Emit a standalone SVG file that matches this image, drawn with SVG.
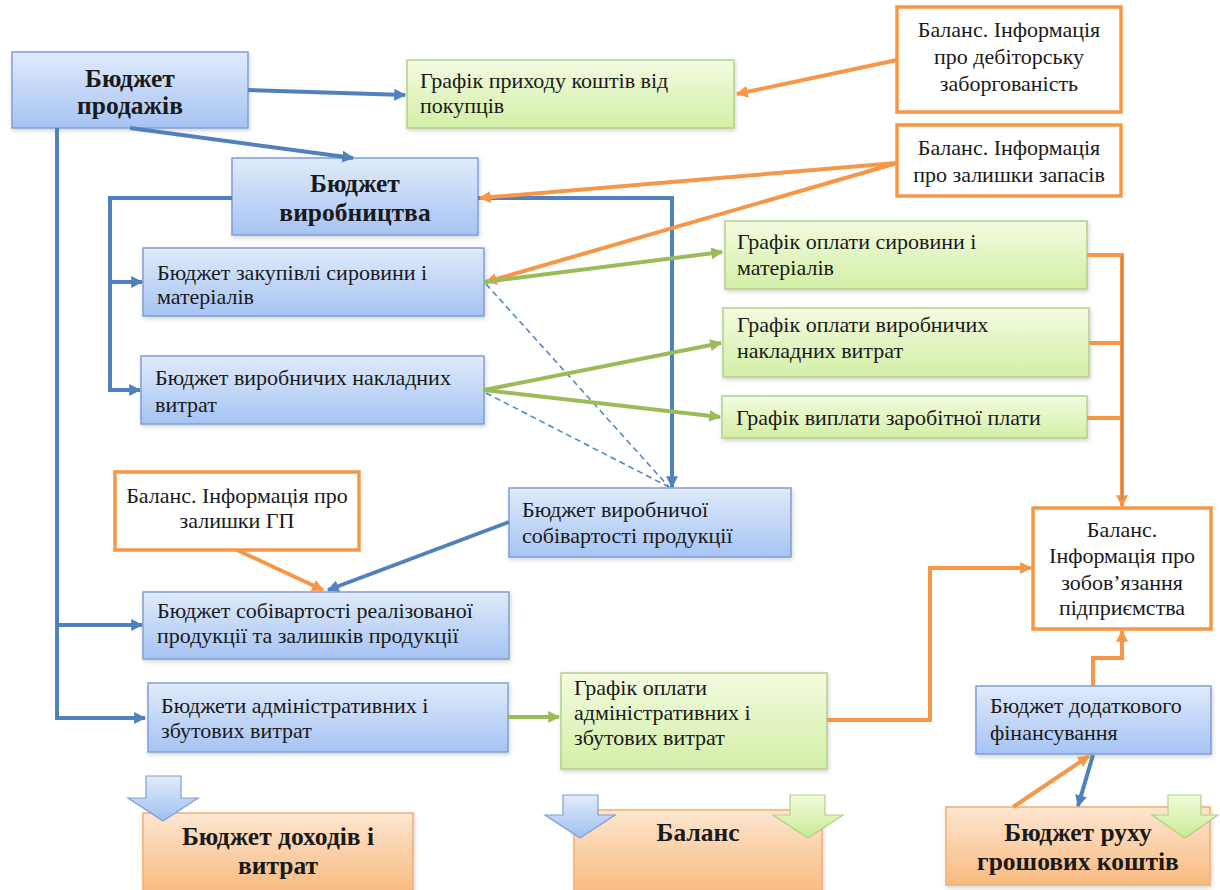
<svg xmlns="http://www.w3.org/2000/svg" width="1220" height="890" viewBox="0 0 1220 890">
<defs>
<linearGradient id="gBlue" x1="0" y1="0" x2="0" y2="1"><stop offset="0" stop-color="#e0ebfb"/><stop offset="1" stop-color="#a6c3f3"/></linearGradient>
<linearGradient id="gGreen" x1="0" y1="0" x2="0" y2="1"><stop offset="0" stop-color="#f3fbe0"/><stop offset="1" stop-color="#d3efa6"/></linearGradient>
<linearGradient id="gOrange" x1="0" y1="0" x2="0" y2="1"><stop offset="0" stop-color="#fde6d0"/><stop offset="1" stop-color="#f9ba80"/></linearGradient>
<linearGradient id="gBlueArrow" x1="0" y1="0" x2="0" y2="1"><stop offset="0" stop-color="#e2ecfb"/><stop offset="1" stop-color="#9fbff1"/></linearGradient>
<linearGradient id="gGreenArrow" x1="0" y1="0" x2="0" y2="1"><stop offset="0" stop-color="#f1fbdc"/><stop offset="1" stop-color="#c9eb93"/></linearGradient>
<filter id="sh" x="-10%" y="-10%" width="120%" height="130%"><feDropShadow dx="1" dy="2" stdDeviation="2" flood-color="#000" flood-opacity="0.18"/></filter>
<marker id="aB" viewBox="0 0 10 10" refX="9" refY="5" markerWidth="12" markerHeight="12" markerUnits="userSpaceOnUse" orient="auto"><path d="M0,0 L10,5 L0,10 z" fill="#4f81bd"/></marker>
<marker id="aO" viewBox="0 0 10 10" refX="9" refY="5" markerWidth="12" markerHeight="12" markerUnits="userSpaceOnUse" orient="auto"><path d="M0,0 L10,5 L0,10 z" fill="#f79646"/></marker>
<marker id="aG" viewBox="0 0 10 10" refX="9" refY="5" markerWidth="12" markerHeight="12" markerUnits="userSpaceOnUse" orient="auto"><path d="M0,0 L10,5 L0,10 z" fill="#9bbb59"/></marker>
</defs>
<style>
.blue{fill:url(#gBlue);stroke:#7f9fd3;stroke-width:1.5;filter:url(#sh)}
.green{fill:url(#gGreen);stroke:#b3cf8a;stroke-width:1.5;filter:url(#sh)}
.orng{fill:url(#gOrange);stroke:#f3ae70;stroke-width:1.5;filter:url(#sh)}
.obox{fill:#ffffff;stroke:#f79646;stroke-width:3.5}
text{font-family:'Liberation Serif','Times New Roman','DejaVu Serif',serif;fill:#1a1a1a}
.t{font-size:22px}
.tc{font-size:22px;text-anchor:middle}
.tb{font-size:25.5px;font-weight:bold;text-anchor:middle}
.cb{fill:none;stroke:#4f81bd;stroke-width:4}
.co{fill:none;stroke:#f79646;stroke-width:4}
.cg{fill:none;stroke:#9bbb59;stroke-width:4}
.cd{fill:none;stroke:#4f81bd;stroke-width:1.5;stroke-dasharray:6 4}
.ba{fill:url(#gBlueArrow);stroke:#7f9fd3;stroke-width:1.2}
.ga{fill:url(#gGreenArrow);stroke:#b3cf8a;stroke-width:1.2}
</style>
<rect width="1220" height="890" fill="#ffffff"/>
<g font-family="'Liberation Serif', 'Times New Roman', 'DejaVu Serif', serif">
<g id="n-prodazhi"><rect class="blue" x="12" y="52" width="236" height="76"/><text class="tb" x="130" y="87">Бюджет</text><text class="tb" x="130" y="114">продажів</text></g>
<g id="n-prykhid"><rect class="green" x="407" y="60" width="327" height="68"/><text class="t" x="420" y="88">Графік приходу коштів від</text><text class="t" x="420" y="113">покупців</text></g>
<g id="n-debit"><rect class="obox" x="897" y="7" width="224" height="105"/><text class="tc" x="1009" y="37">Баланс. Інформація</text><text class="tc" x="1009" y="64">про дебіторську</text><text class="tc" x="1009" y="91">заборгованість</text></g>
<g id="n-zapasy"><rect class="obox" x="897" y="125" width="224" height="71"/><text class="tc" x="1009" y="155">Баланс. Інформація</text><text class="tc" x="1009" y="182">про залишки запасів</text></g>
<g id="n-vyrobnytstvo"><rect class="blue" x="232" y="158" width="246" height="77"/><text class="tb" x="355" y="192">Бюджет</text><text class="tb" x="355" y="221">виробництва</text></g>
<g id="n-zakupivli"><rect class="blue" x="143" y="248" width="341" height="68"/><text class="t" x="157" y="280">Бюджет закупівлі сировини і</text><text class="t" x="157" y="304">матеріалів</text></g>
<g id="n-nakladni"><rect class="blue" x="141" y="356" width="343" height="68"/><text class="t" x="155" y="385">Бюджет виробничих накладних</text><text class="t" x="155" y="412">витрат</text></g>
<g id="n-opl-syrovyny"><rect class="green" x="725" y="221" width="362" height="68"/><text class="t" x="737" y="249">Графік оплати сировини і</text><text class="t" x="737" y="275">матеріалів</text></g>
<g id="n-opl-nakladnykh"><rect class="green" x="723" y="308" width="366" height="69"/><text class="t" x="737" y="332">Графік оплати виробничих</text><text class="t" x="737" y="358">накладних витрат</text></g>
<g id="n-zarplata"><rect class="green" x="722" y="396" width="365" height="42"/><text class="t" x="736" y="425">Графік виплати заробітної плати</text></g>
<g id="n-gp"><rect class="obox" x="115" y="472" width="244" height="78"/><text class="tc" x="237" y="503">Баланс. Інформація про</text><text class="tc" x="237" y="528">залишки ГП</text></g>
<g id="n-vyr-sobivartist"><rect class="blue" x="509" y="488" width="282" height="69"/><text class="t" x="522" y="517">Бюджет виробничої</text><text class="t" x="522" y="543">собівартості продукції</text></g>
<g id="n-realiz"><rect class="blue" x="143" y="592" width="366" height="67"/><text class="t" x="157" y="618">Бюджет собівартості реалізованої</text><text class="t" x="157" y="643">продукції та залишків продукції</text></g>
<g id="n-admin"><rect class="blue" x="148" y="683" width="360" height="69"/><text class="t" x="161" y="713">Бюджети адміністративних і</text><text class="t" x="161" y="738">збутових витрат</text></g>
<g id="n-opl-admin"><rect class="green" x="561" y="673" width="266" height="96"/><text class="t" x="574" y="695">Графік оплати</text><text class="t" x="574" y="720">адміністративних і</text><text class="t" x="574" y="745">збутових витрат</text></g>
<g id="n-zobov"><rect class="obox" x="1033" y="508" width="178" height="121"/><text class="tc" x="1122" y="537">Баланс.</text><text class="tc" x="1122" y="563">Інформація про</text><text class="tc" x="1122" y="590">зобов’язання</text><text class="tc" x="1122" y="615">підприємства</text></g>
<g id="n-dodatk"><rect class="blue" x="976" y="686" width="235" height="68"/><text class="t" x="990" y="713">Бюджет додаткового</text><text class="t" x="990" y="740">фінансування</text></g>

<g id="n-dokhody"><rect class="orng" x="143" y="813" width="270" height="80"/><text class="tb" x="278" y="845">Бюджет доходів і</text><text class="tb" x="278" y="874">витрат</text></g>
<g id="n-balans"><rect class="orng" x="574" y="810" width="248" height="83"/><text class="tb" x="698" y="841">Баланс</text></g>
<g id="n-rukh"><rect class="orng" x="946" y="807" width="264" height="78"/><text class="tb" x="1078" y="841">Бюджет руху</text><text class="tb" x="1078" y="870">грошових коштів</text></g>
</g>
<g id="block-arrows">
<path class="ba" d="M146,776 L181,776 L181,798 L198,798 L163,821 L128,798 L146,798 z"/>
<path class="ba" d="M563,795 L598,795 L598,815 L615,815 L580,838 L545,815 L563,815 z"/>
<path class="ga" d="M790,795 L825,795 L825,815 L843,815 L808,838 L773,815 L790,815 z"/>
<path class="ga" d="M1168,795 L1201,795 L1201,815 L1218,815 L1185,838 L1152,815 L1168,815 z"/>
</g>

<g id="connectors">
<line class="cb" x1="248" y1="90" x2="405" y2="95" marker-end="url(#aB)"/>
<line class="cb" x1="130" y1="128" x2="353" y2="158" marker-end="url(#aB)"/>
<polyline class="cb" points="57,128 57,718 145,718" marker-end="url(#aB)"/>
<line class="cb" x1="57" y1="625" x2="142" y2="625" marker-end="url(#aB)"/>
<polyline class="cb" points="232,198 110,198 110,390 140,390" marker-end="url(#aB)"/>
<line class="cb" x1="110" y1="282" x2="142" y2="282" marker-end="url(#aB)"/>
<polyline class="cb" points="478,198 672,198 672,487" marker-end="url(#aB)"/>
<line class="cb" x1="509" y1="522" x2="328" y2="590" marker-end="url(#aB)"/>
<line class="cb" x1="1093" y1="755" x2="1078" y2="806" marker-end="url(#aB)"/>

<line class="cd" x1="486" y1="284" x2="669" y2="487"/>
<line class="cd" x1="486" y1="393" x2="669" y2="487"/>

<line class="co" x1="897" y1="60" x2="737" y2="94" marker-end="url(#aO)"/>
<line class="co" x1="897" y1="163" x2="480" y2="198" marker-end="url(#aO)"/>
<line class="co" x1="897" y1="163" x2="486" y2="282" marker-end="url(#aO)"/>
<polyline class="co" points="1087,255 1122,255 1122,506" marker-end="url(#aO)"/>
<line class="co" x1="1089" y1="343" x2="1122" y2="343"/>
<line class="co" x1="1087" y1="418" x2="1122" y2="418"/>
<line x1="1122" y1="255" x2="1122" y2="500" stroke="#c0703a" stroke-width="1"/>
<polyline class="co" points="827,720 930,720 930,568 1031,568" marker-end="url(#aO)"/>
<polyline class="co" points="1093,686 1093,658 1122,658 1122,631" marker-end="url(#aO)"/>
<line class="co" x1="1013" y1="807" x2="1089" y2="756" marker-end="url(#aO)"/>
<line class="co" x1="237" y1="550" x2="323" y2="590" marker-end="url(#aO)"/>

<line class="cg" x1="484" y1="282" x2="722" y2="252" marker-end="url(#aG)"/>
<line class="cg" x1="484" y1="390" x2="721" y2="343" marker-end="url(#aG)"/>
<line class="cg" x1="484" y1="390" x2="720" y2="417" marker-end="url(#aG)"/>
<line class="cg" x1="508" y1="717" x2="559" y2="717" marker-end="url(#aG)"/>
</g>
</svg>
